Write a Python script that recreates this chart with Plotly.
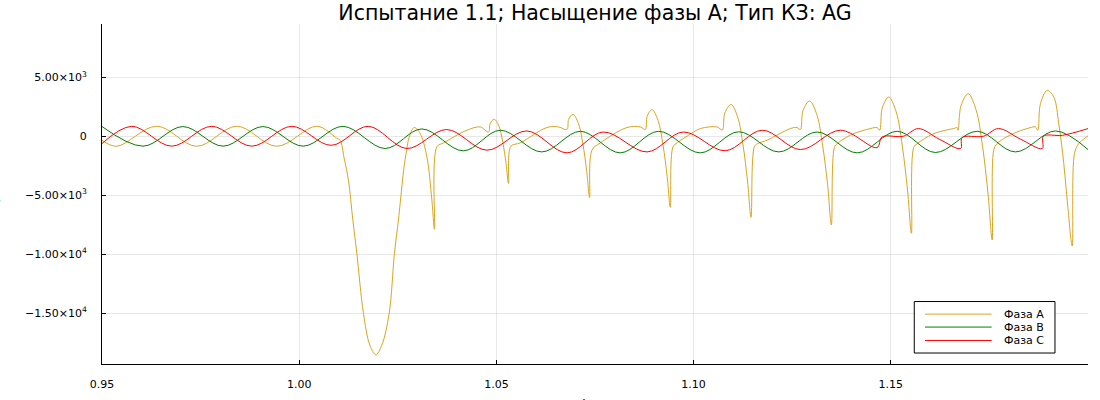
import plotly.graph_objects as go

TITLE = "Испытание 1.1; Насыщение фазы A; Тип КЗ: AG"
X_LABEL = "t, с"
Y_LABEL = "I, А"

# Phase A (saturated CT), time in s, current in A
t_a = [0.95000, 0.95373, 0.96388, 0.97402, 0.98417, 0.99432, 1.00447,
       1.00954, 1.01038, 1.01139, 1.01248, 1.01360, 1.01461, 1.01629, 1.01791, 1.01943,
       1.02095, 1.02281, 1.02415, 1.02516, 1.02560, 1.02648, 1.02724, 1.02788, 1.02915,
       1.03067, 1.03237, 1.03364, 1.03430,
       1.03491, 1.03658, 1.04252, 1.04589, 1.04800, 1.04843, 1.04944, 1.05066, 1.05162, 1.05246, 1.05307,
       1.05368, 1.05604, 1.06281, 1.06575, 1.06788, 1.06832, 1.06941, 1.07080, 1.07194, 1.07291, 1.07362,
       1.07423, 1.07633, 1.08311, 1.08648, 1.08775, 1.08823, 1.08945, 1.09097, 1.09224, 1.09330, 1.09409,
       1.09477, 1.09587, 1.09942, 1.10170, 1.10594, 1.10728, 1.10791, 1.10949, 1.11116, 1.11253, 1.11370, 1.11456,
       1.11540, 1.11616, 1.11862, 1.12453, 1.12623, 1.12707, 1.12775, 1.12943, 1.13125, 1.13272, 1.13399, 1.13493,
       1.13569, 1.13645, 1.14026, 1.14482, 1.14652, 1.14718, 1.14784, 1.14947, 1.15137, 1.15292, 1.15424, 1.15523,
       1.15581, 1.15675, 1.16055, 1.16436, 1.16596, 1.16682, 1.16707, 1.16781, 1.16961, 1.17161, 1.17326, 1.17466, 1.17570,
       1.17610, 1.17697, 1.18110, 1.18458, 1.18668, 1.18727, 1.18795, 1.18965, 1.19132, 1.19259, 1.19386, 1.19488, 1.19599,
       1.19658, 1.19767, 1.20000]
i_a = [-340, -850, 850, -850, 850, -850, 850,
       -170, -340, -1860, -3720, -7110, -9920, -15010, -17710, -18530,
       -17710, -15010, -9920, -7110, -5690, -2880, -1180, -90, 740,
       230, -1750, -5410, -7890,
       -890, -570, 510, 790, 360, 1080, 1440, 850, -520, -2320, -4000,
       -850, -570, 740, 790, 570, 1430, 1860, 1080, -680, -3000, -5190,
       -1180, -570, 740, 790, 570, 1700, 2260, 1350, -730, -3440, -6030,
       -910, -550, 230, 650, 790, 530, 1980, 2690, 1640, -750, -3890, -6880,
       -890, -640, -340, 650, 740, 570, 2190, 2990, 1830, -800, -4150, -7530,
       -960, -620, 170, 650, 740, 510, 2390, 3330, 2060, -840, -4570, -8230,
       -960, -620, 170, 550, 650, 740, 510, 2590, 3610, 2250, -850, -4910, -8800,
       -1180, -620, 230, 650, 790, 510, 2770, 3890, 3330, 1070, -2310, -5980, -9310,
       -1460, -620, 40]

# Phase B
t_b = [0.9500, 0.9604, 0.9705, 0.9807, 0.9908, 1.0010, 1.0111, 1.0218, 1.0311, 1.0416,
       1.0510, 1.0615, 1.0713, 1.0814, 1.0911, 1.1017, 1.1114, 1.1216, 1.1313, 1.1415,
       1.1516, 1.1613, 1.1719, 1.1816, 1.1918, 1.2000]
i_b = [820, -840, 820, -840, 820, -840, 840, -1040, 620, -1240,
       510, -1330, 420, -1410, 420, -1410, 380, -1330, 360, -1410,
       420, -1380, 420, -1330, 450, -1130]

# Phase C
t_c = [0.9500, 0.9575, 0.9677, 0.9778, 0.9880, 0.9981, 1.0081, 1.0175, 1.0273, 1.0374,
       1.0476, 1.0577, 1.0679, 1.0771, 1.0882, 1.0974, 1.1080, 1.1174, 1.1271, 1.1372,
       1.1465, 1.1478, 1.1532, 1.1570, 1.1623, 1.1677, 1.1681, 1.1735, 1.1773, 1.1829,
       1.1884, 1.1887, 1.1935, 1.2000]
i_c = [-620, 840, -840, 840, -840, 840, -770, 840, -1040, 570,
       -1180, 450, -1410, 360, -1330, 360, -1230, 510, -1130, 510,
       -960, -60, 0, 650, -250, -1040, -110, 0, 650, -250,
       -1040, 0, 80, 650]

series_names = ["Фаза A", "Фаза B", "Фаза C"]
series_colors = ["#DAA520", "#008000", "#FF0000"]

x_tickvals = [0.95, 1.00, 1.05, 1.10, 1.15]
x_ticktext = ["0.95", "1.00", "1.05", "1.10", "1.15"]
y_tickvals = [-15000, -10000, -5000, 0, 5000]
y_ticktext = ["\u22121.50×10<sup>4</sup>", "\u22121.00×10<sup>4</sup>",
              "\u22125.00×10<sup>3</sup>", "0", "5.00×10<sup>3</sup>"]

assert len(t_a) == len(i_a) and len(t_b) == len(i_b) and len(t_c) == len(i_c)

FONT = "DejaVu Sans"
fig = go.Figure()
for (t, i), name, color in zip([(t_a, i_a), (t_b, i_b), (t_c, i_c)], series_names, series_colors):
    fig.add_trace(go.Scatter(x=t, y=i, mode="lines", name=name, showlegend=False,
                             line=dict(color=color, width=1, shape="spline", smoothing=1)))

fig.update_layout(
    width=1100, height=400,
    margin=dict(l=102, r=12, t=24, b=36, autoexpand=False),
    plot_bgcolor="white", paper_bgcolor="white",
    font=dict(family=FONT, size=11, color="black"),
    title=dict(text=TITLE, xref="paper", x=0.5, xanchor="center", y=0.9675, yanchor="middle",
               font=dict(family=FONT, size=20.5, color="black")),
)
fig.update_xaxes(range=[0.95, 1.2], tickvals=x_tickvals, ticktext=x_ticktext, automargin=False,
                 showline=True, linecolor="black", linewidth=1, mirror=False,
                 ticks="inside", ticklen=4, tickcolor="black", tickwidth=1,
                 showgrid=True, gridcolor="rgba(0,0,0,0.09)", gridwidth=1, zeroline=False,
                 ticklabelstandoff=10)
fig.update_yaxes(range=[-19314, 9518], tickvals=y_tickvals, ticktext=y_ticktext, automargin=False,
                 showline=True, linecolor="black", linewidth=1, mirror=False,
                 ticks="inside", ticklen=4, tickcolor="black", tickwidth=1,
                 showgrid=True, gridcolor="rgba(0,0,0,0.09)", gridwidth=1, zeroline=False,
                 ticklabelstandoff=12)

# axis titles (they sit mostly beyond the figure edge, as in the reference)
fig.add_annotation(text=X_LABEL, xref="paper", yref="paper", x=0.498, y=-0.0871,
                   xanchor="center", yanchor="top", showarrow=False,
                   font=dict(family=FONT, size=14, color="black"))
fig.add_annotation(text=Y_LABEL, xref="paper", yref="paper", x=-0.1106, y=0.501,
                   xanchor="center", yanchor="middle", textangle=-90, showarrow=False,
                   font=dict(family=FONT, size=15, color="black"))

# legend drawn as a framed box in the plot area (paper coordinates)
lx0, lx1, ly0, ly1 = 0.8238, 0.9665, 0.0323, 0.1837
fig.add_shape(type="rect", xref="paper", yref="paper", x0=lx0, x1=lx1, y0=ly0, y1=ly1,
              line=dict(color="black", width=1), fillcolor="white", layer="above")
row_y = [0.1467, 0.1086, 0.0692]
for name, color, yy in zip(series_names, series_colors, row_y):
    fig.add_shape(type="line", xref="paper", yref="paper", x0=0.8347, x1=0.9023, y0=yy, y1=yy,
                  line=dict(color=color, width=1), layer="above")
    fig.add_annotation(text=name, xref="paper", yref="paper", x=0.9125, y=yy, xanchor="left",
                       yanchor="middle", showarrow=False, font=dict(family=FONT, size=11, color="black"))

fig.write_html("out.html", config={"displayModeBar": False},
               post_script="document.body.style.margin='0';")
